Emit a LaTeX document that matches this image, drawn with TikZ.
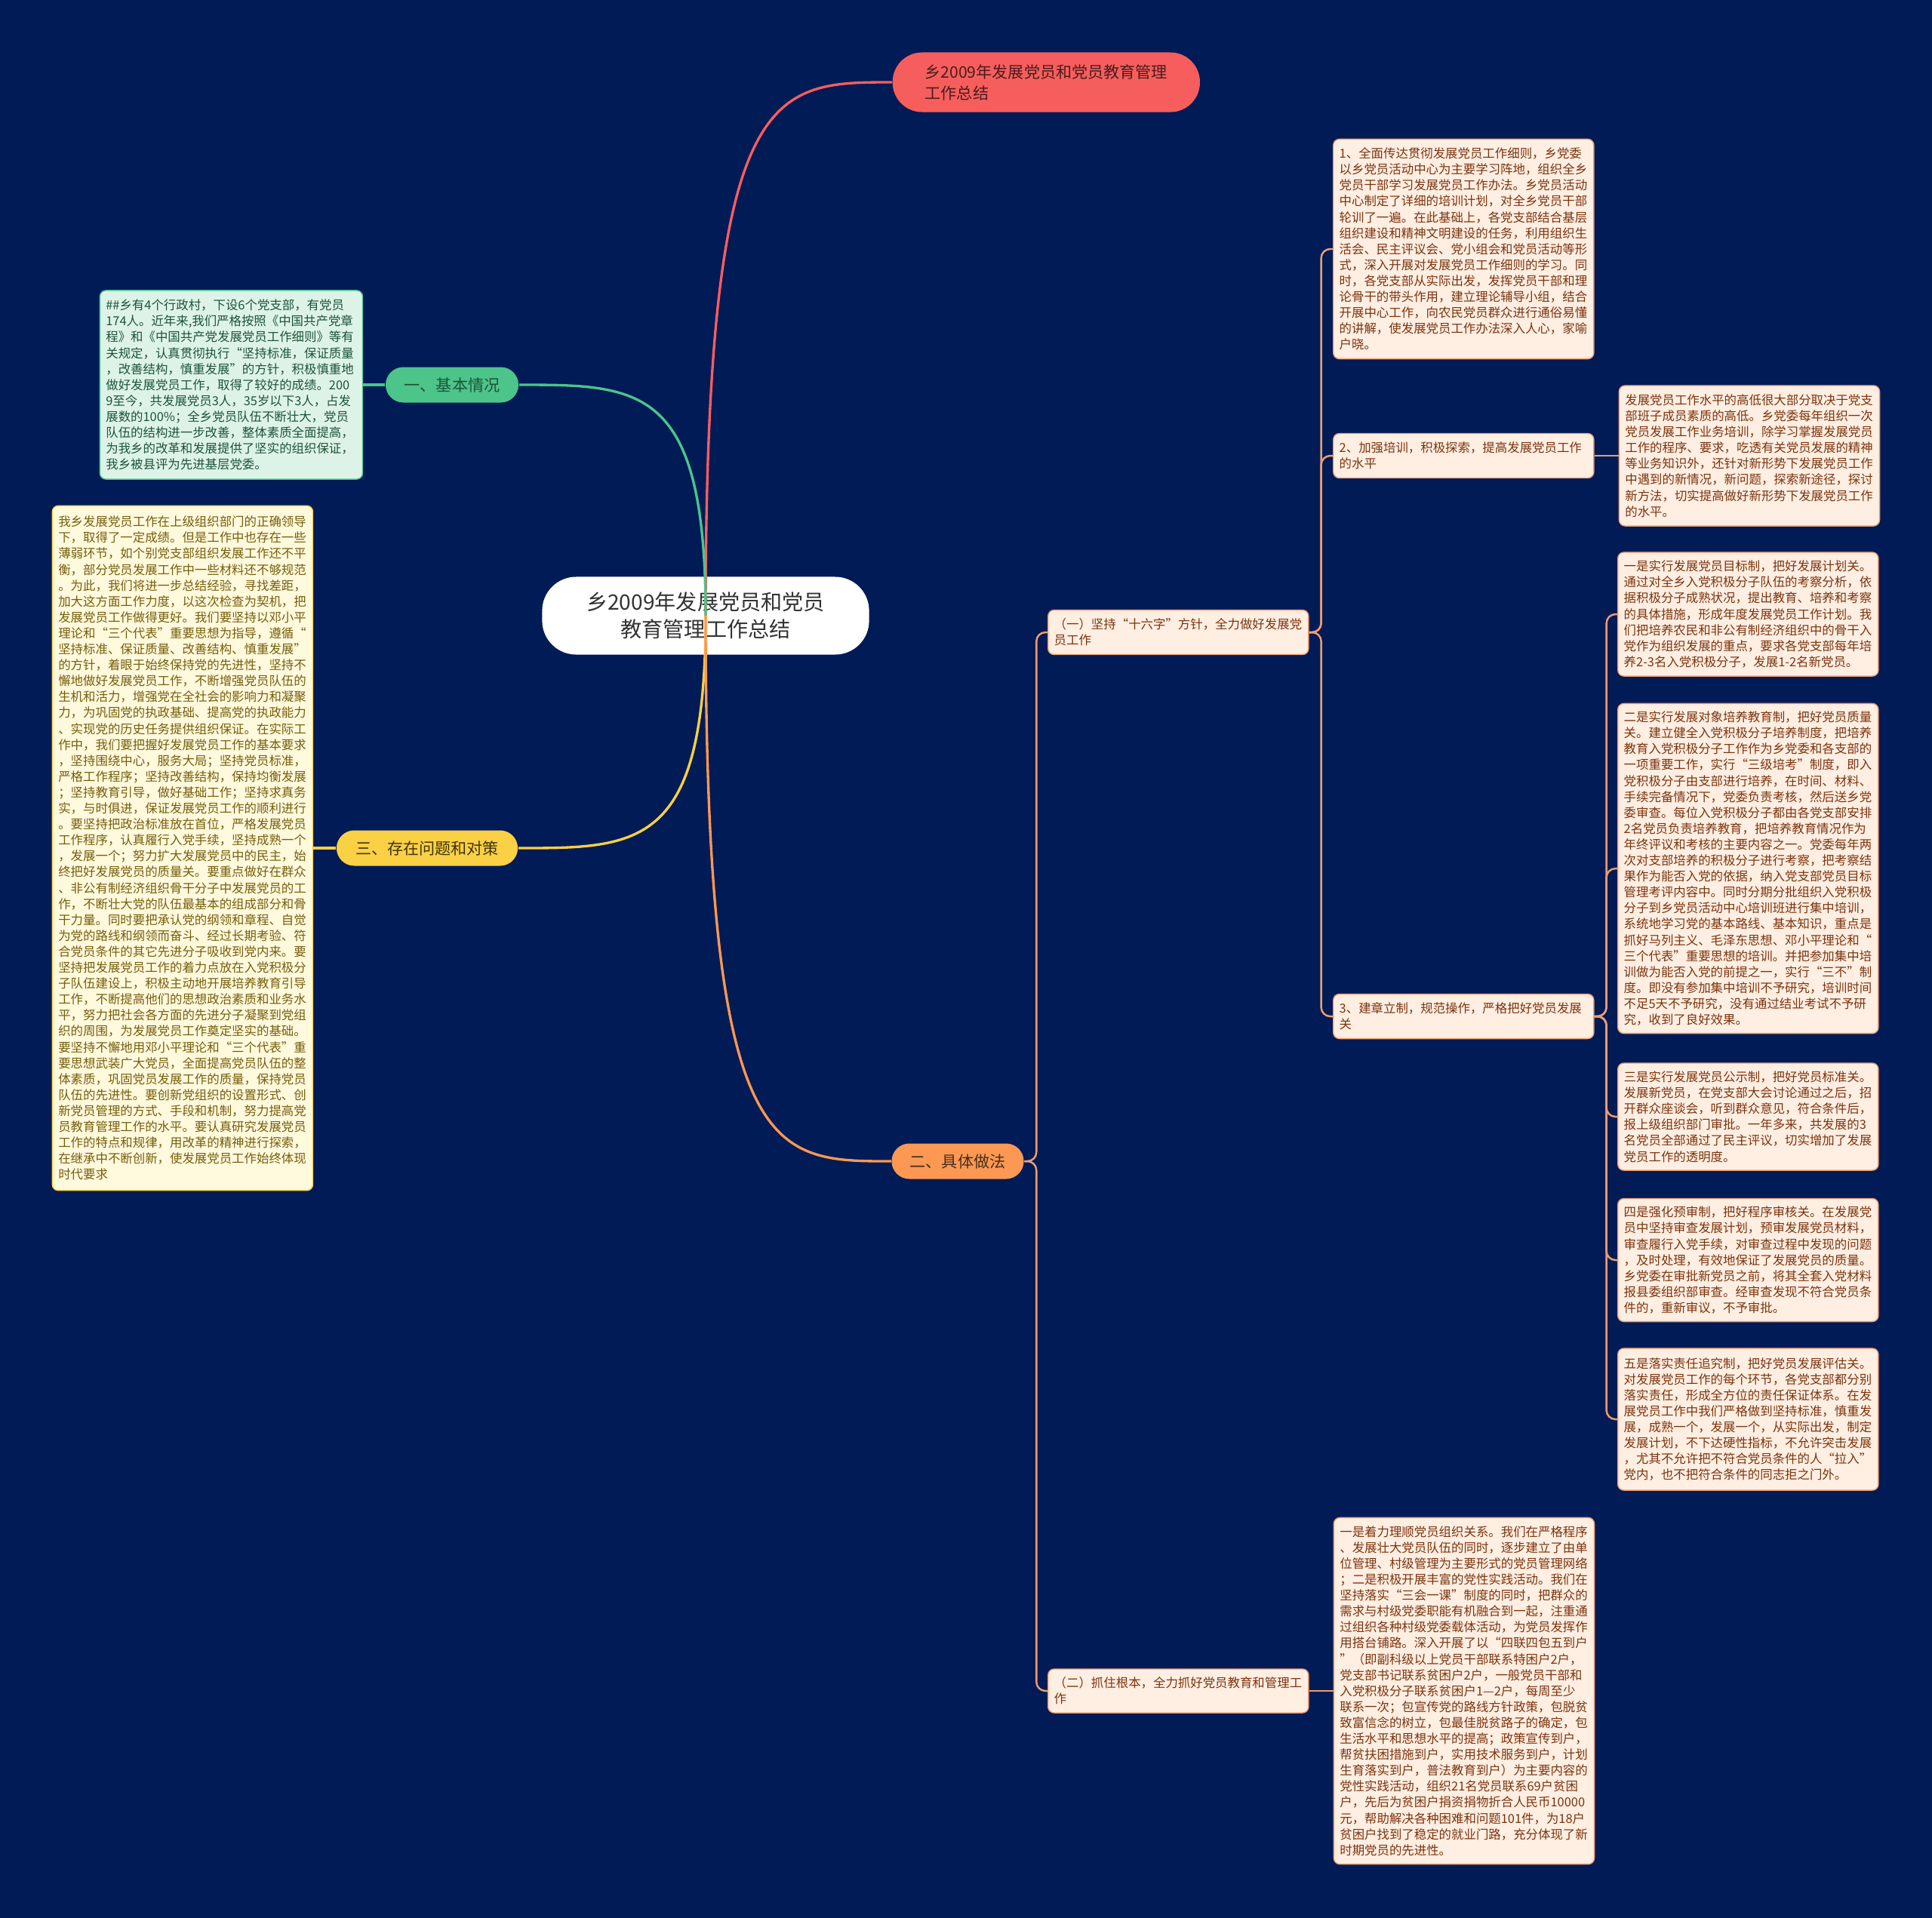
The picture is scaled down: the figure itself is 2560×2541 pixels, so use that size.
\documentclass[tikz,border=0pt]{standalone}
\usepackage{fontspec}
\setmainfont{Noto Sans CJK SC}
\usetikzlibrary{positioning,calc}
\usepackage{xcolor}
\definecolor{bgnavy}{RGB}{1,27,86}
\definecolor{titlered}{RGB}{246,94,94}
\definecolor{basicgreen}{RGB}{76,196,138}
\definecolor{issueyellow}{RGB}{250,208,68}
\definecolor{methodorange}{RGB}{250,152,84}
\definecolor{leafpeach}{RGB}{255,238,226}
\definecolor{leafline}{RGB}{236,158,112}
\definecolor{leaftext}{RGB}{122,52,14}
\definecolor{mintfill}{RGB}{222,243,232}
\definecolor{minttext}{RGB}{28,84,56}
\definecolor{creamfill}{RGB}{255,249,221}
\definecolor{creamtext}{RGB}{118,94,12}
\newcommand{\leaffont}{\fontsize{4.67}{6.0}\selectfont}

\begin{document}
\begin{tikzpicture}[x=0.01cm, y=-0.01cm,
    rootbox/.style={rectangle, rounded corners=0.45cm, fill=white, text=black!80,
                    minimum width=4.33cm, minimum height=1.03cm, align=center,
                    font=\fontsize{8}{10.3}\selectfont},
    topic/.style={rectangle, rounded corners=0.235cm, minimum height=0.47cm,
                  font=\fontsize{6}{8}\selectfont},
    leaf/.style={rectangle, rounded corners=0.08cm, draw=leafline, fill=leafpeach,
                 text=leaftext, text width=3.29cm, inner xsep=0.08cm, inner ysep=0.05cm,
                 align=left, line width=0.4pt, font=\leaffont},
    mainlink/.style={line width=0.95pt},
    leaflink/.style={draw=leafline, line width=0.7pt, rounded corners=0.12cm}
]

\useasboundingbox (0,0) rectangle (2560,2541);
\fill[bgnavy] (-20,-20) rectangle (2580,2561);

\node[rootbox] (root) at (935,816) {乡2009年发展党员和党员\\教育管理工作总结};

\node[topic, fill=titlered, text=black!70!titlered, anchor=west, align=left,
      minimum width=4.07cm, minimum height=0.79cm, rounded corners=0.39cm,
      inner xsep=0.4cm] (title) at (1182,109) {乡2009年发展党员和党员教育管理\\工作总结};

\node[topic, fill=basicgreen, text=minttext, minimum width=1.76cm] (basic) at (599,510) {一、基本情况};
\node[topic, fill=issueyellow, text=black!75!issueyellow, minimum width=2.40cm] (issue) at (566,1124) {三、存在问题和对策};
\node[topic, fill=methodorange, text=black!70!methodorange, minimum width=1.75cm] (method) at (1269,1539) {二、具体做法};

\node[leaf, fill=mintfill, draw=basicgreen, text=minttext, text width=3.32cm,
      minimum height=2.50cm, left=0.29cm of basic] (basicnote) {\#\#乡有4个行政村，下设6个党支部，有党员\\
174人。近年来,我们严格按照《中国共产党章\\
程》和《中国共产党发展党员工作细则》等有\\
关规定，认真贯彻执行“坚持标准，保证质量\\
，改善结构，慎重发展”的方针，积极慎重地\\
做好发展党员工作，取得了较好的成绩。200\\
9至今，共发展党员3人，35岁以下3人，占发\\
展数的100\%；全乡党员队伍不断壮大，党员\\
队伍的结构进一步改善，整体素质全面提高，\\
为我乡的改革和发展提供了坚实的组织保证，\\
我乡被县评为先进基层党委。};

\node[leaf, fill=creamfill, draw=issueyellow, text=creamtext,
      minimum height=9.07cm, left=0.30cm of issue] (issuenote) {我乡发展党员工作在上级组织部门的正确领导\\
下，取得了一定成绩。但是工作中也存在一些\\
薄弱环节，如个别党支部组织发展工作还不平\\
衡，部分党员发展工作中一些材料还不够规范\\
。为此，我们将进一步总结经验，寻找差距，\\
加大这方面工作力度，以这次检查为契机，把\\
发展党员工作做得更好。我们要坚持以邓小平\\
理论和“三个代表”重要思想为指导，遵循“\\
坚持标准、保证质量、改善结构、慎重发展”\\
的方针，着眼于始终保持党的先进性，坚持不\\
懈地做好发展党员工作，不断增强党员队伍的\\
生机和活力，增强党在全社会的影响力和凝聚\\
力，为巩固党的执政基础、提高党的执政能力\\
、实现党的历史任务提供组织保证。在实际工\\
作中，我们要把握好发展党员工作的基本要求\\
，坚持围绕中心，服务大局；坚持党员标准，\\
严格工作程序；坚持改善结构，保持均衡发展\\
；坚持教育引导，做好基础工作；坚持求真务\\
实，与时俱进，保证发展党员工作的顺利进行\\
。要坚持把政治标准放在首位，严格发展党员\\
工作程序，认真履行入党手续，坚持成熟一个\\
，发展一个；努力扩大发展党员中的民主，始\\
终把好发展党员的质量关。要重点做好在群众\\
、非公有制经济组织骨干分子中发展党员的工\\
作，不断壮大党的队伍最基本的组成部分和骨\\
干力量。同时要把承认党的纲领和章程、自觉\\
为党的路线和纲领而奋斗、经过长期考验、符\\
合党员条件的其它先进分子吸收到党内来。要\\
坚持把发展党员工作的着力点放在入党积极分\\
子队伍建设上，积极主动地开展培养教育引导\\
工作，不断提高他们的思想政治素质和业务水\\
平，努力把社会各方面的先进分子凝聚到党组\\
织的周围，为发展党员工作奠定坚实的基础。\\
要坚持不懈地用邓小平理论和“三个代表”重\\
要思想武装广大党员，全面提高党员队伍的整\\
体素质，巩固党员发展工作的质量，保持党员\\
队伍的先进性。要创新党组织的设置形式、创\\
新党员管理的方式、手段和机制，努力提高党\\
员教育管理工作的水平。要认真研究发展党员\\
工作的特点和规律，用改革的精神进行探索，\\
在继承中不断创新，使发展党员工作始终体现\\
时代要求};

\node[leaf, anchor=west, minimum height=0.59cm] (m1) at (1388,838) {（一）坚持“十六字”方针，全力做好发展党\\员工作};
\node[leaf, anchor=west, minimum height=0.58cm] (m2) at (1388,2241) {（二）抓住根本，全力抓好党员教育和管理工\\作};

\node[leaf, anchor=west, minimum height=2.91cm] (m11) at (1766,330) {1、全面传达贯彻发展党员工作细则，乡党委\\
以乡党员活动中心为主要学习阵地，组织全乡\\
党员干部学习发展党员工作办法。乡党员活动\\
中心制定了详细的培训计划，对全乡党员干部\\
轮训了一遍。在此基础上，各党支部结合基层\\
组织建设和精神文明建设的任务，利用组织生\\
活会、民主评议会、党小组会和党员活动等形\\
式，深入开展对发展党员工作细则的学习。同\\
时，各党支部从实际出发，发挥党员干部和理\\
论骨干的带头作用，建立理论辅导小组，结合\\
开展中心工作，向农民党员群众进行通俗易懂\\
的讲解，使发展党员工作办法深入人心，家喻\\
户晓。};
\node[leaf, anchor=west, minimum height=0.59cm] (m12) at (1766,604) {2、加强培训，积极探索，提高发展党员工作\\的水平};
\node[leaf, anchor=west, minimum height=0.59cm] (m13) at (1766,1347) {3、建章立制，规范操作，严格把好党员发展\\关};

\node[leaf, minimum height=1.86cm, right=0.32cm of m12] (m12a) {发展党员工作水平的高低很大部分取决于党支\\
部班子成员素质的高低。乡党委每年组织一次\\
党员发展工作业务培训，除学习掌握发展党员\\
工作的程序、要求，吃透有关党员发展的精神\\
等业务知识外，还针对新形势下发展党员工作\\
中遇到的新情况，新问题，探索新途径，探讨\\
新方法，切实提高做好新形势下发展党员工作\\
的水平。};

\node[leaf, anchor=west, minimum height=1.64cm] (m13a) at (2143,814) {一是实行发展党员目标制，把好发展计划关。\\
通过对全乡入党积极分子队伍的考察分析，依\\
据积极分子成熟状况，提出教育、培养和考察\\
的具体措施，形成年度发展党员工作计划。我\\
们把培养农民和非公有制经济组织中的骨干入\\
党作为组织发展的重点，要求各党支部每年培\\
养2-3名入党积极分子，发展1-2名新党员。};
\node[leaf, anchor=west, minimum height=4.37cm] (m13b) at (2143,1151) {二是实行发展对象培养教育制，把好党员质量\\
关。建立健全入党积极分子培养制度，把培养\\
教育入党积极分子工作作为乡党委和各支部的\\
一项重要工作，实行“三级培考”制度，即入\\
党积极分子由支部进行培养，在时间、材料、\\
手续完备情况下，党委负责考核，然后送乡党\\
委审查。每位入党积极分子都由各党支部安排\\
2名党员负责培养教育，把培养教育情况作为\\
年终评议和考核的主要内容之一。党委每年两\\
次对支部培养的积极分子进行考察，把考察结\\
果作为能否入党的依据，纳入党支部党员目标\\
管理考评内容中。同时分期分批组织入党积极\\
分子到乡党员活动中心培训班进行集中培训，\\
系统地学习党的基本路线、基本知识，重点是\\
抓好马列主义、毛泽东思想、邓小平理论和“\\
三个代表”重要思想的培训。并把参加集中培\\
训做为能否入党的前提之一，实行“三不”制\\
度。即没有参加集中培训不予研究，培训时间\\
不足5天不予研究，没有通过结业考试不予研\\
究，收到了良好效果。};
\node[leaf, anchor=west, minimum height=1.42cm] (m13c) at (2143,1480) {三是实行发展党员公示制，把好党员标准关。\\
发展新党员，在党支部大会讨论通过之后，招\\
开群众座谈会，听到群众意见，符合条件后，\\
报上级组织部门审批。一年多来，共发展的3\\
名党员全部通过了民主评议，切实增加了发展\\
党员工作的透明度。};
\node[leaf, anchor=west, minimum height=1.63cm] (m13d) at (2143,1670) {四是强化预审制，把好程序审核关。在发展党\\
员中坚持审查发展计划，预审发展党员材料，\\
审查履行入党手续，对审查过程中发现的问题\\
，及时处理，有效地保证了发展党员的质量。\\
乡党委在审批新党员之前，将其全套入党材料\\
报县委组织部审查。经审查发现不符合党员条\\
件的，重新审议，不予审批。};
\node[leaf, anchor=west, minimum height=1.88cm] (m13e) at (2143,1881) {五是落实责任追究制，把好党员发展评估关。\\
对发展党员工作的每个环节，各党支部都分别\\
落实责任，形成全方位的责任保证体系。在发\\
展党员工作中我们严格做到坚持标准，慎重发\\
展，成熟一个，发展一个，从实际出发，制定\\
发展计划，不下达硬性指标，不允许突击发展\\
，尤其不允许把不符合党员条件的人“拉入”\\
党内，也不把符合条件的同志拒之门外。};

\node[leaf, minimum height=4.59cm, right=0.32cm of m2] (m2a) {一是着力理顺党员组织关系。我们在严格程序\\
、发展壮大党员队伍的同时，逐步建立了由单\\
位管理、村级管理为主要形式的党员管理网络\\
；二是积极开展丰富的党性实践活动。我们在\\
坚持落实“三会一课”制度的同时，把群众的\\
需求与村级党委职能有机融合到一起，注重通\\
过组织各种村级党委载体活动，为党员发挥作\\
用搭台铺路。深入开展了以“四联四包五到户\\
”（即副科级以上党员干部联系特困户2户，\\
党支部书记联系贫困户2户，一般党员干部和\\
入党积极分子联系贫困户1—2户，每周至少\\
联系一次；包宣传党的路线方针政策，包脱贫\\
致富信念的树立，包最佳脱贫路子的确定，包\\
生活水平和思想水平的提高；政策宣传到户，\\
帮贫扶困措施到户，实用技术服务到户，计划\\
生育落实到户，普法教育到户）为主要内容的\\
党性实践活动，组织21名党员联系69户贫困\\
户，先后为贫困户捐资捐物折合人民币10000\\
元，帮助解决各种困难和问题101件，为18户\\
贫困户找到了稳定的就业门路，充分体现了新\\
时期党员的先进性。};

\draw[mainlink, draw=titlered] (root.center) .. controls (root.center |- title.west)
    and ($(root.center |- title.west)!0.35!(title.west)$) .. (title.west);
\draw[mainlink, draw=basicgreen] (root.center) .. controls (root.center |- basic.east)
    and ($(root.center |- basic.east)!0.35!(basic.east)$) .. (basic.east);
\draw[mainlink, draw=issueyellow] (root.center) .. controls (root.center |- issue.east)
    and ($(root.center |- issue.east)!0.35!(issue.east)$) .. (issue.east);
\draw[mainlink, draw=methodorange] (root.center) .. controls (root.center |- method.west)
    and ($(root.center |- method.west)!0.35!(method.west)$) .. (method.west);

\draw[mainlink, draw=basicgreen] (basic.west) -- (basicnote.east);
\draw[mainlink, draw=issueyellow] (issue.west) -- (issuenote.east);

\draw[leaflink] (method.east) -- ++(16,0) |- (m1.west);
\draw[leaflink] (method.east) -- ++(16,0) |- (m2.west);
\draw[leaflink] (m1.east) -- ++(16,0) |- (m11.west);
\draw[leaflink] (m1.east) -- ++(16,0) |- (m12.west);
\draw[leaflink] (m1.east) -- ++(16,0) |- (m13.west);
\draw[leaflink] (m12.east) -- (m12a.west);
\draw[leaflink] (m13.east) -- ++(16,0) |- (m13a.west);
\draw[leaflink] (m13.east) -- ++(16,0) |- (m13b.west);
\draw[leaflink] (m13.east) -- ++(16,0) |- (m13c.west);
\draw[leaflink] (m13.east) -- ++(16,0) |- (m13d.west);
\draw[leaflink] (m13.east) -- ++(16,0) |- (m13e.west);
\draw[leaflink] (m2.east) -- (m2a.west);

\end{tikzpicture}
\end{document}
